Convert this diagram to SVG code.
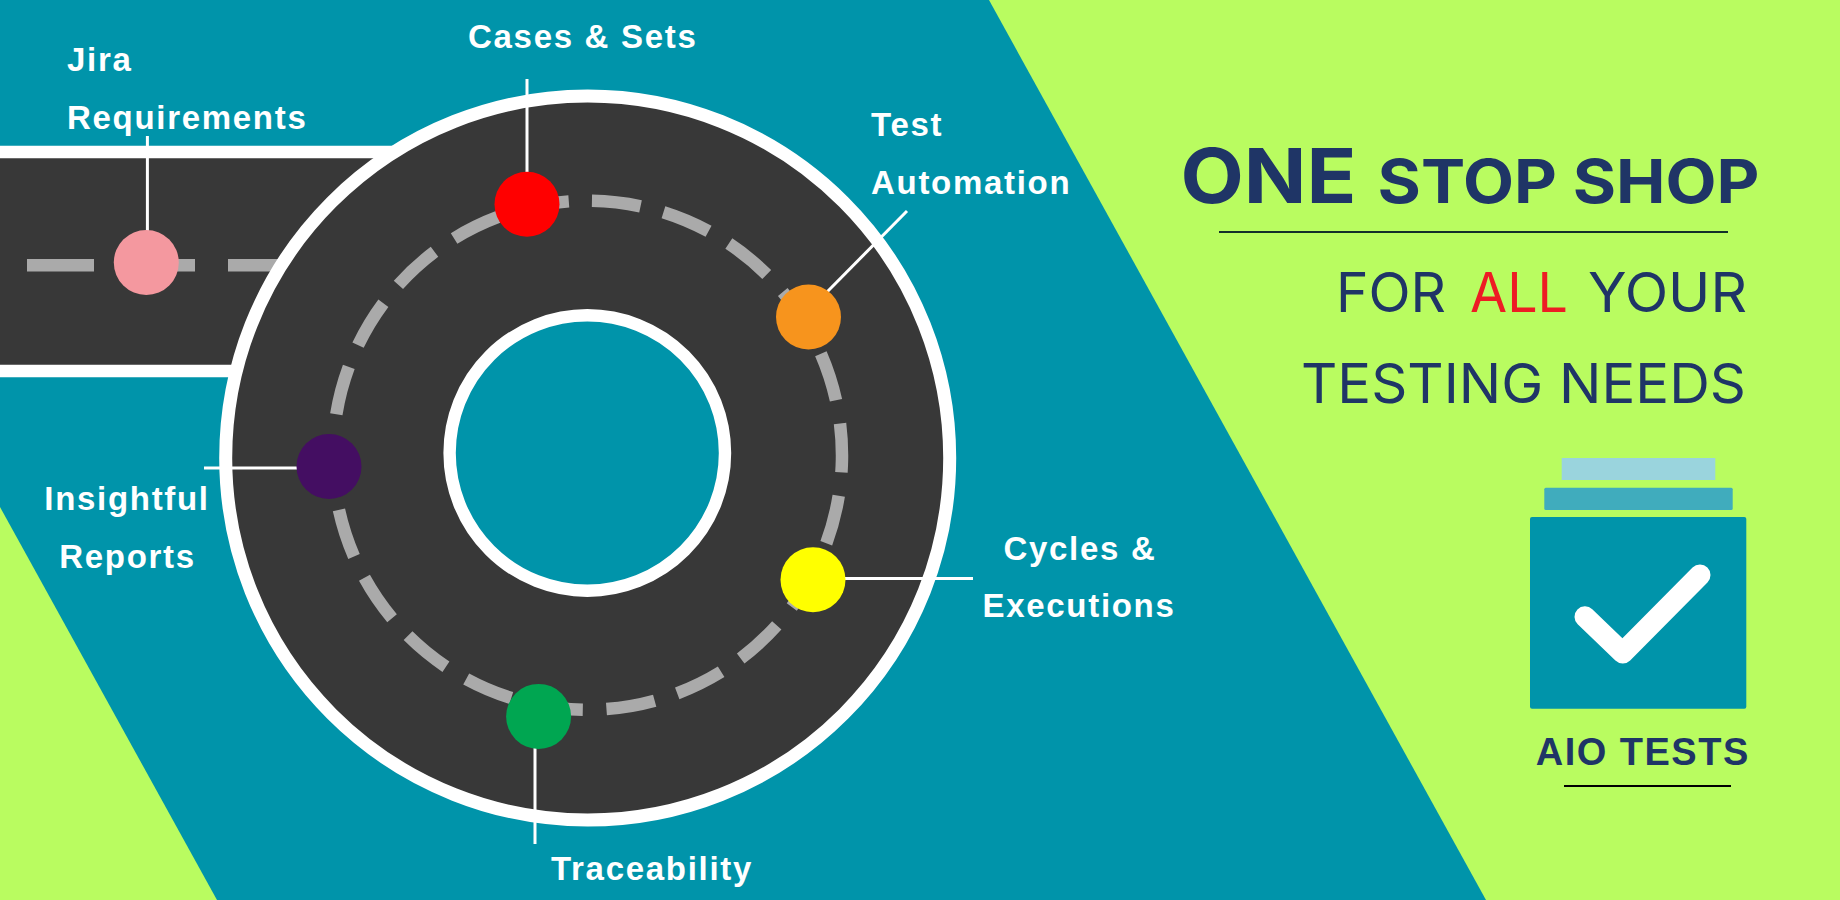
<svg xmlns="http://www.w3.org/2000/svg" width="1840" height="900" viewBox="0 0 1840 900">
<style>
.lb{font-family:"Liberation Sans",Arial,sans-serif;font-weight:700;font-size:33px;letter-spacing:1.7px;fill:#fff}
.hd{font-family:Inter,"Noto Sans",sans-serif;fill:#1f3566}
.ln{stroke:#fff;stroke-width:3;fill:none}
</style>
<rect id="background" width="1840" height="900" fill="#0094aa"/>
<polygon id="lime-right" points="989,0 1840,0 1840,900 1486,900" fill="#b9fc60"/>
<polygon id="lime-left" points="0,507 217,900 0,900" fill="#b9fc60"/>
<g id="road">
<rect x="-30" y="152" width="425" height="219" fill="#383838" stroke="#fff" stroke-width="12.5"/>
<g fill="#aaa"><rect x="27" y="259" width="67" height="12.5"/><rect x="150" y="259" width="45" height="12.5"/><rect x="228" y="259" width="60" height="12.5"/></g>
<circle cx="587.7" cy="458" r="362" fill="#383838" stroke="#fff" stroke-width="13"/>
<circle cx="587.5" cy="455.2" r="254.5" fill="none" stroke="#aaa" stroke-width="12.5" stroke-dasharray="49 23.68" transform="rotate(-89 587.5 455.2)"/>
<circle cx="587.3" cy="453" r="137.7" fill="#0094aa" stroke="#fff" stroke-width="12.4"/>
</g>
<g id="connectors">
<path class="ln" d="M147.4 136V232"/>
<path class="ln" d="M527 79V175"/>
<path class="ln" d="M907 211L827 292"/>
<path class="ln" d="M845 578.5H973"/>
<path class="ln" d="M535 747V844"/>
<path class="ln" d="M204 468H297"/>
</g>
<g id="node-jira"><circle cx="146.3" cy="262.5" r="32.5" fill="#f4989f"/>
<text class="lb" x="67" y="71">Jira</text><text class="lb" x="67" y="129">Requirements</text></g>
<g id="node-cases"><circle cx="527" cy="204.3" r="32.5" fill="#ff0000"/>
<text class="lb" x="468" y="48">Cases &amp; Sets</text></g>
<g id="node-automation"><circle cx="808.5" cy="317" r="32.5" fill="#f7941d"/>
<text class="lb" x="871" y="136">Test</text><text class="lb" x="871" y="194">Automation</text></g>
<g id="node-cycles"><circle cx="813" cy="579.7" r="32.5" fill="#ffff00"/>
<text class="lb" x="1080" y="559.5" text-anchor="middle">Cycles &amp;</text><text class="lb" x="1079" y="617" text-anchor="middle">Executions</text></g>
<g id="node-traceability"><circle cx="538.6" cy="716.4" r="32.5" fill="#00a651"/>
<text class="lb" x="551" y="880">Traceability</text></g>
<g id="node-reports"><circle cx="329" cy="466.5" r="32.5" fill="#440e62"/>
<text class="lb" x="127" y="510" text-anchor="middle">Insightful</text><text class="lb" x="127.5" y="568" text-anchor="middle">Reports</text></g>
<g id="headline">
<text class="hd" x="1180.5" y="202.7" font-size="76" font-weight="700" textLength="176" lengthAdjust="spacingAndGlyphs">ONE</text>
<text class="hd" x="1377.5" y="202.7" font-size="61" font-weight="700" textLength="382" lengthAdjust="spacingAndGlyphs">STOP SHOP</text>
<line x1="1219" y1="232" x2="1728" y2="232" stroke="#12302a" stroke-width="2"/>
<text class="hd" x="1336" y="311.7" font-size="55" font-weight="400" textLength="110" lengthAdjust="spacingAndGlyphs">FOR</text>
<text class="hd" x="1470" y="311.7" font-size="55" font-weight="400" textLength="98" lengthAdjust="spacingAndGlyphs" style="fill:#ed1c24">ALL</text>
<text class="hd" x="1588" y="311.7" font-size="55" font-weight="400" textLength="159" lengthAdjust="spacingAndGlyphs">YOUR</text>
<text class="hd" x="1301" y="402.7" font-size="55" font-weight="400" textLength="445" lengthAdjust="spacingAndGlyphs">TESTING NEEDS</text>
</g>
<g id="logo">
<rect x="1561.7" y="458" width="153.6" height="22" fill="#9ad4dd"/>
<rect x="1544.3" y="487.7" width="188.4" height="22.3" rx="1.5" fill="#40acbd"/>
<rect x="1530" y="517" width="216.3" height="191.7" rx="2" fill="#0094aa"/>
<path d="M1585 616.7L1622.7 653L1700 575" fill="none" stroke="#fff" stroke-width="21" stroke-linecap="round" stroke-linejoin="round"/>
<text x="1535.7" y="764.7" font-family="'Liberation Sans',Arial,sans-serif" font-weight="700" font-size="38" letter-spacing="1.5" fill="#1f3566">AIO TESTS</text>
<line x1="1564" y1="786" x2="1731" y2="786" stroke="#000" stroke-width="2"/>
</g>
</svg>
